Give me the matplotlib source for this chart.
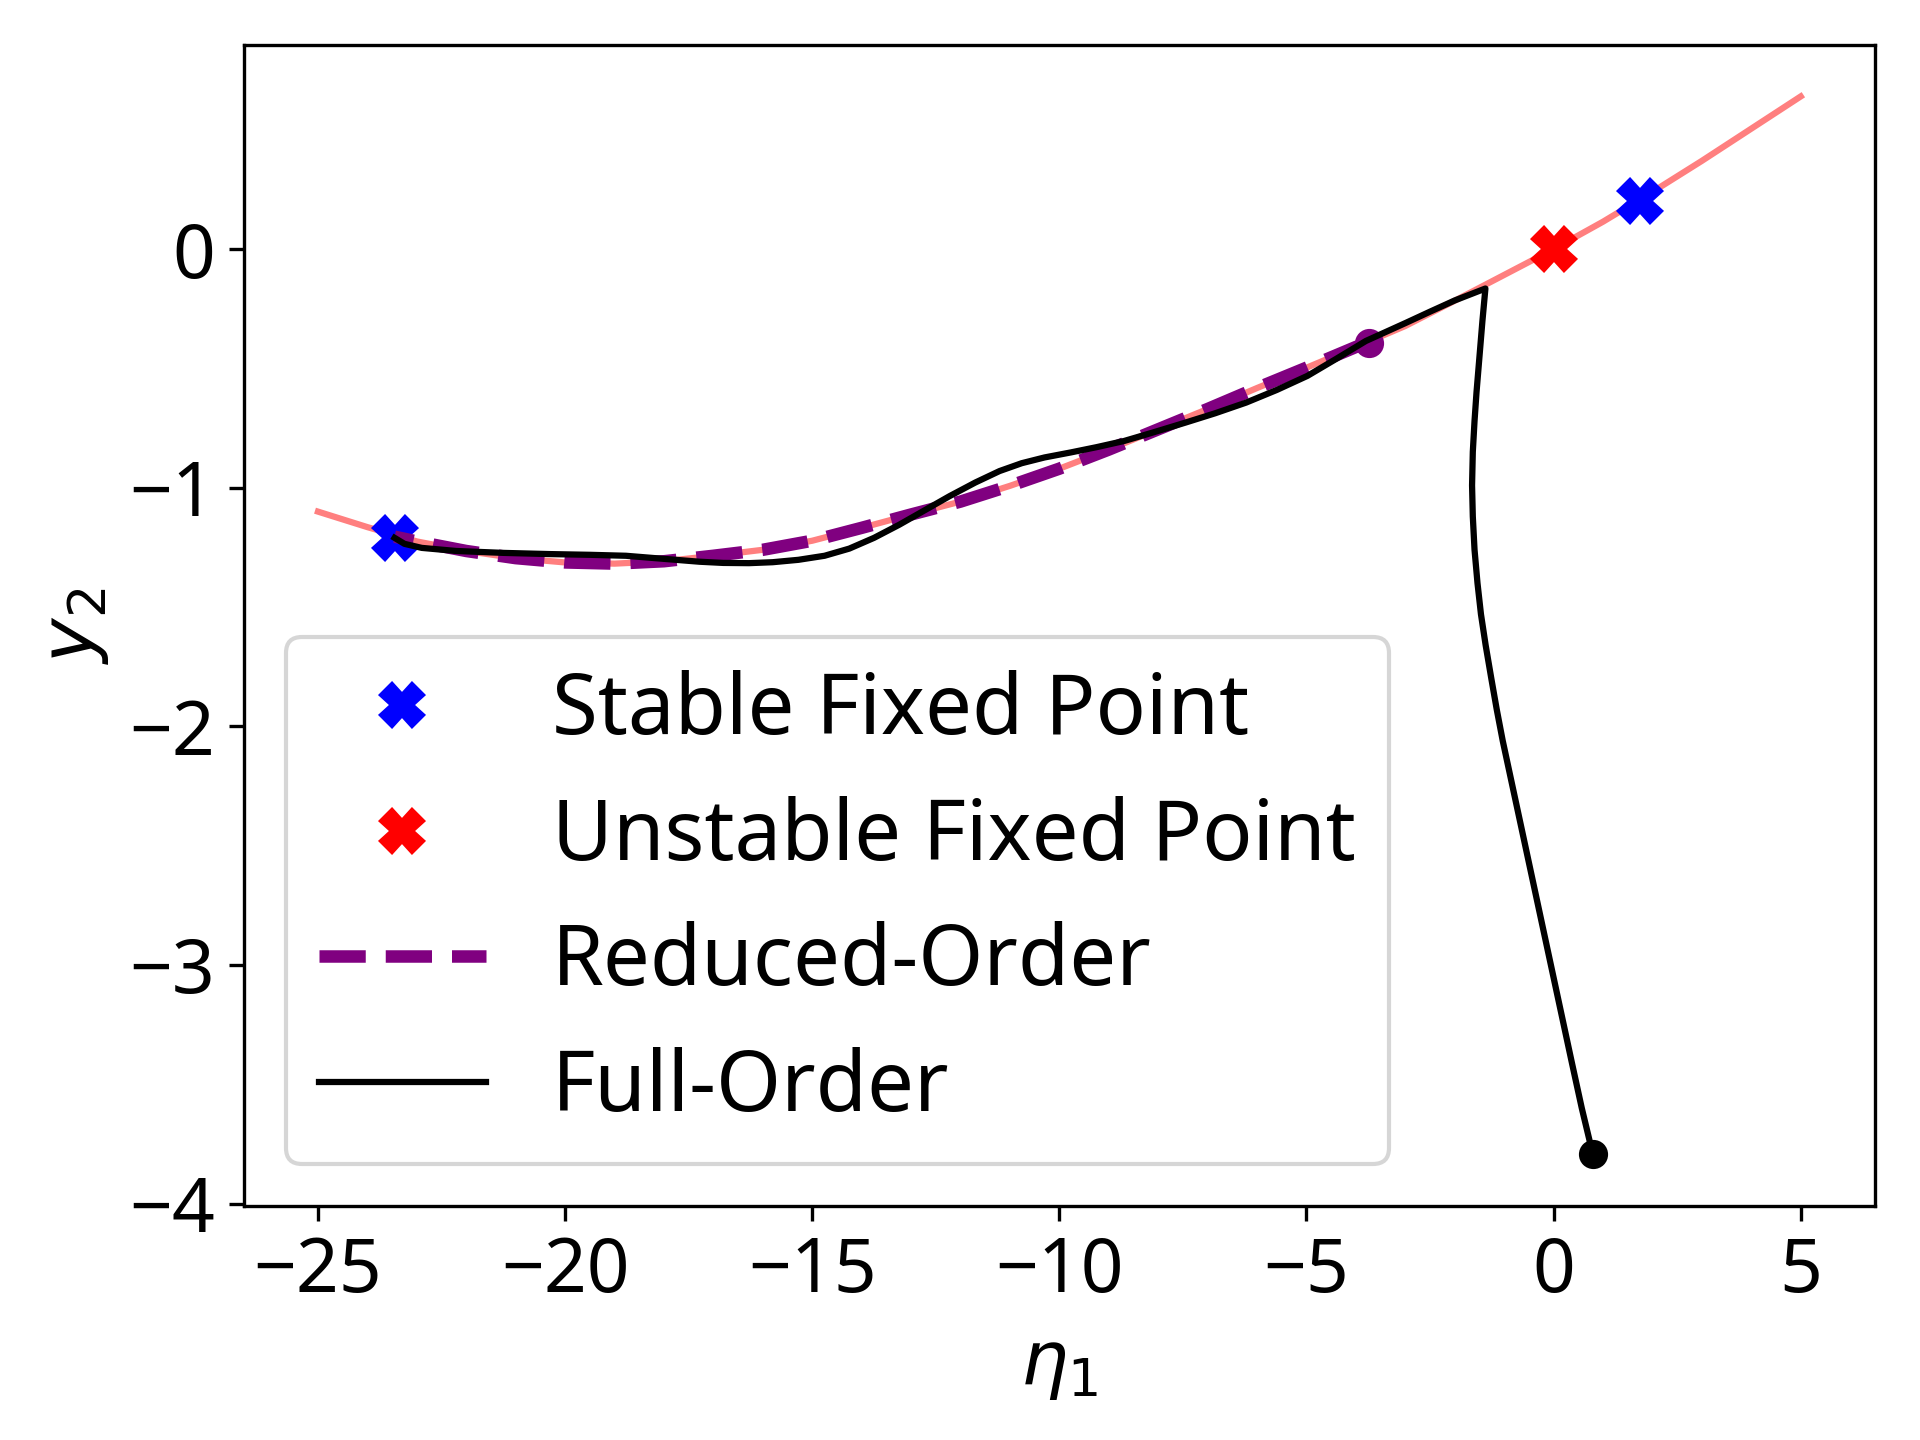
import matplotlib
matplotlib.use("Agg")
import matplotlib.pyplot as plt

plt.rcParams['font.family'] = ['Noto Sans', 'DejaVu Sans']

# slow manifold (red curve)
manifold_x = [-25, -24, -23, -22, -21, -20, -19, -18, -17, -16, -15, -14, -13, -12, -11, -10,
              -9, -8, -7, -6, -5, -4, -3, -2, -1, 0, 1, 2, 3, 4, 5]
manifold_y = [-1.10, -1.165, -1.225, -1.265, -1.295, -1.313, -1.318, -1.308, -1.285, -1.26,
              -1.222, -1.168, -1.112, -1.058, -0.992, -0.92, -0.84, -0.755, -0.67, -0.582,
              -0.497, -0.41, -0.322, -0.216, -0.108, 0.0, 0.115, 0.24, 0.37, 0.505, 0.64]

# fixed points
stable_x = [-23.45, 1.74]
stable_y = [-1.21, 0.20]
unstable_x = [0.0]
unstable_y = [0.0]

# reduced-order trajectory
rom_x = [-3.74, -4, -5, -6, -7, -8, -9, -10, -11, -12, -13, -14, -15, -16, -17, -18, -19,
         -20, -21, -22, -23, -23.45]
rom_y = [-0.392, -0.41, -0.497, -0.582, -0.67, -0.755, -0.84, -0.92, -0.992, -1.058, -1.112,
         -1.168, -1.222, -1.26, -1.285, -1.308, -1.318, -1.313, -1.295, -1.265, -1.225, -1.205]

# full-order trajectory
fom_x = [0.79, 0.57, 0.37, 0.09, -0.19, -0.47, -0.75, -1.03, -1.15, -1.26, -1.375, -1.47,
         -1.54, -1.60, -1.635, -1.65, -1.635, -1.60, -1.56, -1.50, -1.44, -1.38,
         -2.0, -2.5, -3.0, -3.8, -4.4, -4.98, -5.6, -6.22, -6.85, -7.45, -8.1, -8.69, -9.25,
         -9.77, -10.3, -10.76, -11.21, -11.7, -12.22, -12.73, -13.24, -13.75, -14.25, -14.75,
         -15.28, -15.8, -16.28, -16.8, -17.28, -18.0, -18.77, -19.5, -20.3, -21.24, -22.2,
         -22.9, -23.25, -23.45]
fom_y = [-3.79, -3.60, -3.41, -3.14, -2.87, -2.60, -2.33, -2.06, -1.93, -1.80, -1.66, -1.53,
         -1.40, -1.26, -1.12, -0.99, -0.85, -0.72, -0.60, -0.45, -0.30, -0.165,
         -0.215, -0.262, -0.31, -0.385, -0.46, -0.531, -0.59, -0.643, -0.688, -0.727, -0.768,
         -0.804, -0.83, -0.852, -0.873, -0.897, -0.930, -0.978, -1.035, -1.095, -1.155, -1.21,
         -1.255, -1.285, -1.302, -1.312, -1.316, -1.315, -1.310, -1.298, -1.285, -1.281,
         -1.278, -1.273, -1.265, -1.252, -1.235, -1.21]

fig, ax = plt.subplots(figsize=(6.4, 4.8), dpi=300)
fig.subplots_adjust(left=0.127, right=0.9765, top=0.969, bottom=0.1625)

ax.plot(manifold_x, manifold_y, color='red', alpha=0.5, lw=1.5)
ax.plot(stable_x, stable_y, 'X', color='blue', ms=10, ls='none', label='Stable Fixed Point')
ax.plot(unstable_x, unstable_y, 'X', color='red', ms=10, ls='none', label='Unstable Fixed Point')
ax.plot(rom_x, rom_y, '--', color='purple', lw=3, label='Reduced-Order')
ax.plot(rom_x[0], rom_y[0], 'o', color='purple')
ax.plot(fom_x, fom_y, color='black', lw=1.5, label='Full-Order')
ax.plot(fom_x[0], fom_y[0], 'o', color='black')

ax.set_xlim(-26.5, 6.5)
ax.set_ylim(-4.01, 0.857)
ax.set_xticks([-25, -20, -15, -10, -5, 0, 5])
ax.set_yticks([-4, -3, -2, -1, 0])
ax.tick_params(labelsize=18)
ax.set_xlabel(r'$\eta_1$', fontsize=18)
ax.set_ylabel(r'$y_2$', fontsize=18)
ax.legend(loc='lower left', fontsize=20)

fig.savefig('out.png', dpi=300)
